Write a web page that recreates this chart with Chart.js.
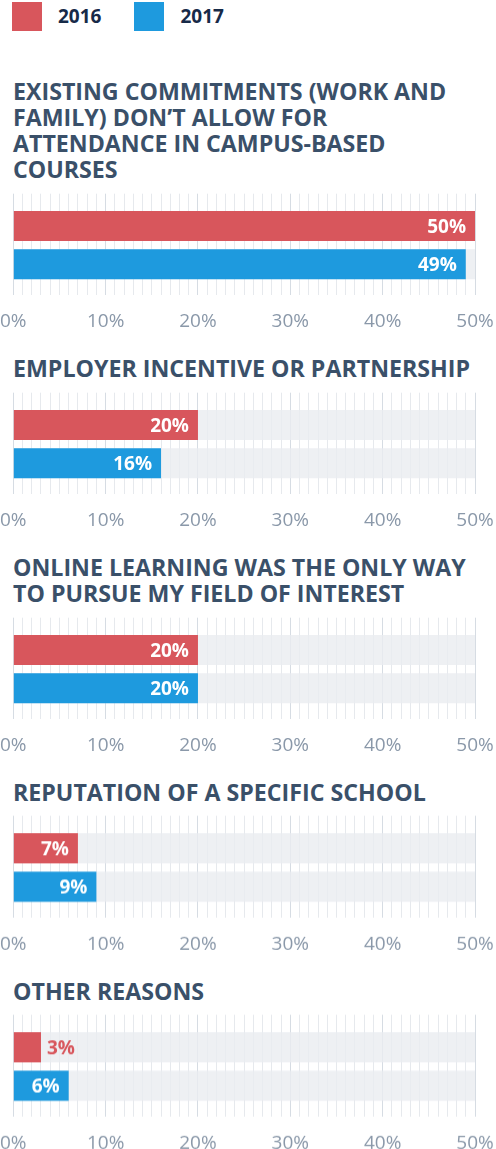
<!DOCTYPE html>
<html>
<head>
<meta charset="utf-8">
<script src="https://cdn.jsdelivr.net/npm/chart.js@4.4.1/dist/chart.umd.min.js"></script>
<style>
  body { margin: 0; background: #fff; font-family: "Open Sans", sans-serif; }
  #page { position: relative; width: 496px; height: 1149px; overflow: hidden; }
  .legend { position: absolute; top: 1px; left: 12px; display: flex; align-items: center; height: 30px; }
  .legend .box { width: 30px; height: 29px; display: inline-block; }
  .legend .lbl { font-weight: 700; font-size: 19px; color: #172a48; margin-left: 16px; margin-right: 33px; }
  #panels { position: absolute; top: 77.6px; left: 0; width: 496px; }
  .title { margin-left: 13px; width: 460px; font-weight: 700; font-size: 23.2px; line-height: 26.3px; color: #3a5069; }
  .plot { position: relative; width: 496px; height: 172.5px; }
</style>
</head>
<body>
<div id="page">
  <div class="legend" id="legend"></div>
  <div id="panels"></div>
</div>
<script>
const categories = [
  'EXISTING COMMITMENTS (WORK AND FAMILY) DON’T ALLOW FOR ATTENDANCE IN CAMPUS-BASED COURSES',
  'EMPLOYER INCENTIVE OR PARTNERSHIP',
  'ONLINE LEARNING WAS THE ONLY WAY TO PURSUE MY FIELD OF INTEREST',
  'REPUTATION OF A SPECIFIC SCHOOL',
  'OTHER REASONS'
];
const years = ['2016', '2017'];
const values2016 = [50, 20, 20, 7, 3];
const values2017 = [49, 16, 20, 9, 6];
const tickLabels = ['0%', '10%', '20%', '30%', '40%', '50%'];
const axisMax = 50;

const RED = '#d8565c';
const BLUE = '#1e9ade';
const TRACK = 'rgba(234, 236, 240, 0.8)';

// legend
const legend = document.getElementById('legend');
years.forEach((y, i) => {
  legend.innerHTML += '<span class="box" style="background:' + [RED, BLUE][i] + '"></span><span class="lbl">' + y + '</span>';
});

const gridColor = ctx => (ctx.tick && ctx.tick.value % 10 === 0) ? '#d6dce3' : '#e6e9ed';

const valueLabels = {
  id: 'valueLabels',
  afterDatasetsDraw(chart) {
    const ctx = chart.ctx;
    const ds = chart.data.datasets[0];
    const meta = chart.getDatasetMeta(0);
    ctx.save();
    ctx.font = '700 19px "Open Sans"';
    ctx.textBaseline = 'middle';
    meta.data.forEach((bar, j) => {
      const text = ds.data[j] + '%';
      const w = ctx.measureText(text).width;
      if (bar.x - bar.base > w + 16) {
        ctx.fillStyle = '#fff';
        ctx.textAlign = 'right';
        ctx.fillText(text, bar.x - 9, bar.y + 1);
      } else {
        ctx.fillStyle = ds.backgroundColor[j];
        ctx.textAlign = 'left';
        ctx.fillText(text, bar.x + 6, bar.y + 1);
      }
    });
    ctx.restore();
  }
};

const panels = document.getElementById('panels');
categories.forEach((title, i) => {
  const t = document.createElement('div');
  t.className = 'title';
  t.textContent = title;
  panels.appendChild(t);
  const wrap = document.createElement('div');
  wrap.className = 'plot';
  const canvas = document.createElement('canvas');
  wrap.appendChild(canvas);
  panels.appendChild(wrap);

  new Chart(canvas, {
    type: 'bar',
    data: {
      labels: years,
      datasets: [
        {
          data: [values2016[i], values2017[i]],
          backgroundColor: [RED, BLUE],
          order: 1, grouped: false,
          barPercentage: 1, categoryPercentage: 0.785
        },
        {
          data: years.map(() => axisMax),
          backgroundColor: TRACK,
          order: 2, grouped: false,
          barPercentage: 1, categoryPercentage: 0.785
        }
      ]
    },
    options: {
      indexAxis: 'y',
      responsive: true,
      maintainAspectRatio: false,
      animation: false,
      layout: { padding: { top: 10.7, left: 13, right: 21, bottom: 7.5 } },
      plugins: { legend: { display: false }, tooltip: { enabled: false } },
      scales: {
        y: { display: false },
        x: {
          min: 0, max: axisMax, position: 'bottom',
          border: { display: false },
          grid: { color: gridColor, tickLength: 11.6 },
          ticks: {
            stepSize: 1, autoSkip: false, maxRotation: 0, padding: 0,
            color: '#8a98a9',
            font: { family: 'Open Sans', size: 19, lineHeight: '53px' },
            callback: v => v % 10 === 0 ? tickLabels[v / 10] : ''
          }
        },
        x2: {
          type: 'linear', min: 0, max: axisMax, position: 'top',
          border: { display: false },
          grid: { color: gridColor, tickLength: 13.3, drawOnChartArea: false },
          ticks: { display: false, stepSize: 1 }
        }
      }
    },
    plugins: [valueLabels]
  });
});
</script>
</body>
</html>
